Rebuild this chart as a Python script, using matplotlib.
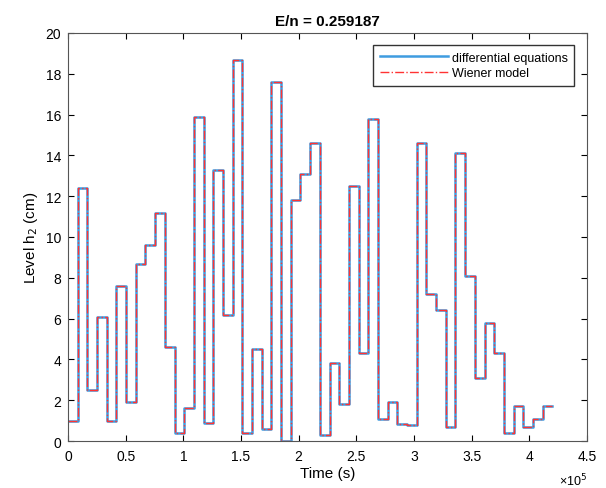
import numpy as np
import matplotlib
matplotlib.use("Agg")
import matplotlib.pyplot as plt
from matplotlib.ticker import FuncFormatter

# step duration (s) and level per step (cm)
step_duration = 8400
levels = [1.0, 12.4, 2.5, 6.1, 1.0, 7.6, 1.9, 8.7, 9.6, 11.2,
          4.6, 0.4, 1.6, 15.9, 0.9, 13.3, 6.2, 18.7, 0.4, 4.5,
          0.6, 17.6, 0.0, 11.8, 13.1, 14.6, 0.3, 3.8, 1.8, 12.5,
          4.3, 15.8, 1.1, 1.9, 0.85, 0.8, 14.6, 7.2, 6.4, 0.7,
          14.1, 8.1, 3.1, 5.8, 4.3, 0.4, 1.7, 0.7, 1.1, 1.7]
wiener_levels = levels

t = np.arange(len(levels) + 1) * step_duration
h_de = levels + [levels[-1]]
h_w = wiener_levels + [wiener_levels[-1]]

plt.rcParams['font.family'] = ['Liberation Sans', 'DejaVu Sans']

fig = plt.figure(figsize=(6.06, 4.89), dpi=100)
ax = fig.add_axes([0.1122, 0.0961, 0.8564, 0.8344])

ax.step(t, h_de, where='post', color='#3f9ce0', lw=1.8, label='differential equations')
ax.step(t, h_w, where='post', color='#ff3333', lw=1.0, ls='-.', label='Wiener model')

ax.set_xlim(0, 4.5e5)
ax.set_ylim(0, 20)
ax.set_xticks(np.arange(0, 4.51e5, 0.5e5))
ax.set_yticks(np.arange(0, 21, 2))
ax.xaxis.set_major_formatter(FuncFormatter(lambda v, p: '%g' % (v / 1e5)))
ax.tick_params(direction='in', top=True, right=True, labelsize=10, length=4)
ax.tick_params(axis='x', pad=6)
ax.tick_params(axis='y', pad=5)
for s in ax.spines.values():
    s.set_color('#555555')

ax.text(1.0, -0.075, '×10$^{5}$', transform=ax.transAxes, ha='right', va='top',
        fontsize=9)

ax.set_xlabel('Time (s)', fontsize=11, labelpad=2)
ax.set_ylabel('Level h$_2$ (cm)', fontsize=11)
ax.set_title('E/n = 0.259187', fontsize=11, fontweight='bold')

leg = ax.legend(loc='upper right', fontsize=9, fancybox=False, framealpha=1,
                edgecolor='#333333', handlelength=5.5, borderaxespad=1.0,
                labelspacing=0.3, borderpad=0.5, handletextpad=0.3)

fig.savefig('out.png', dpi=100)
